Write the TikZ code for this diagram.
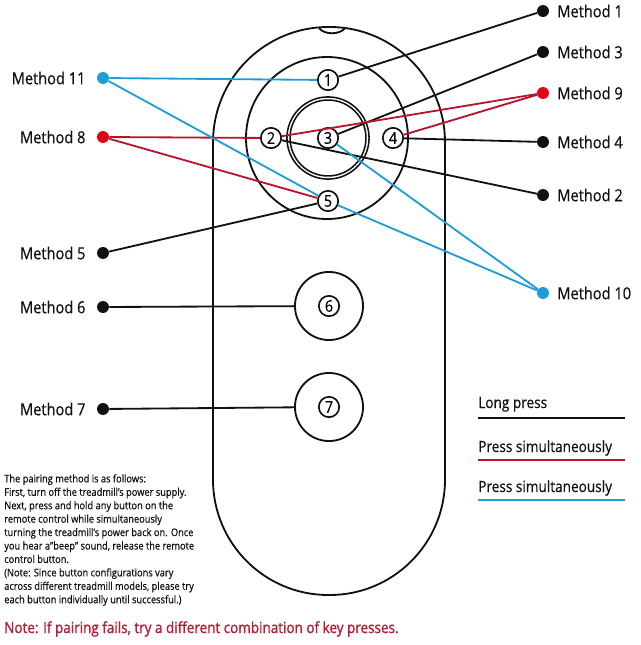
\documentclass[tikz,border=0pt]{standalone}
\usepackage{fontspec}
\setmainfont[FakeStretch=0.88, FakeBold=0.6]{Open Sans}
\newfontfamily\notefont[FakeStretch=0.88, FakeBold=1.4]{Open Sans}
\usetikzlibrary{positioning}
\definecolor{ink}{HTML}{111111}
\definecolor{lineblue}{HTML}{1E9CD7}
\definecolor{linered}{HTML}{B81430}
\definecolor{dotred}{HTML}{E2001A}
\definecolor{notered}{HTML}{B3203A}

\begin{document}
\begin{tikzpicture}[
    x=0.025cm, y=-0.025cm,
    body/.style={draw=ink, line width=1.3pt},
    btn/.style={circle, draw=ink, fill=white, line width=1.2pt, minimum size=14.5pt, inner sep=0pt, font=\fontsize{11.5}{11.5}\selectfont},
    bigbtn/.style={circle, draw=ink, line width=1.3pt, minimum size=48.4pt, inner sep=0pt},
    dot/.style={circle, fill=#1, minimum size=8.5pt, inner sep=0pt},
    dot/.default=ink,
    method/.style={font=\fontsize{11.8}{12}\selectfont, text=ink, inner sep=1pt},
    link/.style={line width=1.3pt, draw=#1},
    link/.default=ink,
    legtext/.style={font=\fontsize{11}{12}\selectfont, anchor=base west, inner sep=0pt, text=ink},
    legline/.style={line width=1.7pt, draw=#1}
]
\useasboundingbox (0,0) rectangle (640,645);

% remote
\draw[body, rounded corners=82pt] (213,27) rectangle (445,595);
\draw[body] (319,28) .. controls (324,35) and (340,35) .. (345,28);
\draw[body] (327,138) circle[radius=57.6pt];
\draw[body, line width=1.1pt] (328,138) circle[radius=29.2pt];
\draw[body, line width=1.1pt] (328,138) circle[radius=27pt];

\node[btn] (b1) at (328,80) {1};
\node[btn] (b2) at (271,138) {2};
\node[btn] (b3) at (328,138) {3};
\node[btn] (b4) at (393,138) {4};
\node[btn] (b5) at (328,201) {5};
\node[bigbtn] (b6) at (329,306) {};
\node[btn] (n6) at (b6) {6};
\node[bigbtn] (b7) at (329,407) {};
\node[btn] (n7) at (b7) {7};

% left side
\node[dot=lineblue] (m11) at (103,78) {};
\node[dot=dotred] (m8) at (103,137) {};
\node[dot] (m5) at (103,253) {};
\node[dot] (m6) at (103,307) {};
\node[dot] (m7) at (103,409) {};
\node[method, left=0.24cm of m11] (t11) {Method 11};
\node[method, left=0.24cm of m8] (t8) {Method 8};
\node[method, left=0.24cm of m5] (t5) {Method 5};
\node[method, left=0.24cm of m6] (t6) {Method 6};
\node[method, left=0.24cm of m7] (t7) {Method 7};

% right side
\node[dot] (m1) at (543,11) {};
\node[dot] (m3) at (543,52) {};
\node[dot=dotred] (m9) at (543,93) {};
\node[dot] (m4) at (543,142) {};
\node[dot] (m2) at (543,195) {};
\node[dot=lineblue] (m10) at (543,293) {};
\node[method, right=0.16cm of m1] (t1) {Method 1};
\node[method, right=0.16cm of m3] (t3) {Method 3};
\node[method, right=0.16cm of m9] (t9) {Method 9};
\node[method, right=0.16cm of m4] (t4) {Method 4};
\node[method, right=0.16cm of m2] (t2) {Method 2};
\node[method, right=0.16cm of m10] (t10) {Method 10};

% long press
\draw[link] (m1) -- (b1);
\draw[link] (m3) -- (b3);
\draw[link] (m4) -- (b4);
\draw[link] (m2) -- (b2);
\draw[link] (m5) -- (b5);
\draw[link] (m6) -- (b6);
\draw[link] (m7) -- (b7);
% press together
\draw[link=linered] (m9) -- (b2);
\draw[link=linered] (m9) -- (b4);
\draw[link=linered] (m8) -- (b2);
\draw[link=linered] (m8) -- (b5);
\draw[link=lineblue] (m11) -- (b1);
\draw[link=lineblue] (m11) -- (b5);
\draw[link=lineblue] (m10) -- (b3);
\draw[link=lineblue] (m10) -- (b5);

% legend
\coordinate (la1) at (478,418); \coordinate (lb1) at (625,418);
\coordinate (la2) at (478,460); \coordinate (lb2) at (625,460);
\coordinate (la3) at (478,500); \coordinate (lb3) at (625,500);
\draw[legline=ink] (la1) -- (lb1);
\draw[legline=linered] (la2) -- (lb2);
\draw[legline=lineblue] (la3) -- (lb3);
\node[legtext] (lg1) at (478,408) {Long press};
\node[legtext] (lg2) at (478,452) {Press simultaneously};
\node[legtext] (lg3) at (478,492) {Press simultaneously};

\node[anchor=north west, align=left, inner sep=0pt, text=ink,
      font=\fontsize{7.5}{9.55}\selectfont] (steps) at (4,474)
  {The pairing method is as follows:\\
   First, turn off the treadmill’s power supply.\\
   Next, press and hold any button on the\\
   remote control while simultaneously\\
   turning the treadmill’s power back on. Once\\
   you hear a"beep" sound, release the remote\\
   control button.\\
   (Note: Since button configurations vary\\
   across different treadmill models, please try\\
   each button individually until successful.)};
\node[anchor=base west, inner sep=0pt, text=notered,
      font=\notefont\fontsize{10.9}{12}\selectfont] (note) at (4,633)
  {Note: If pairing fails, try a different combination of key presses.};

\end{tikzpicture}
\end{document}
